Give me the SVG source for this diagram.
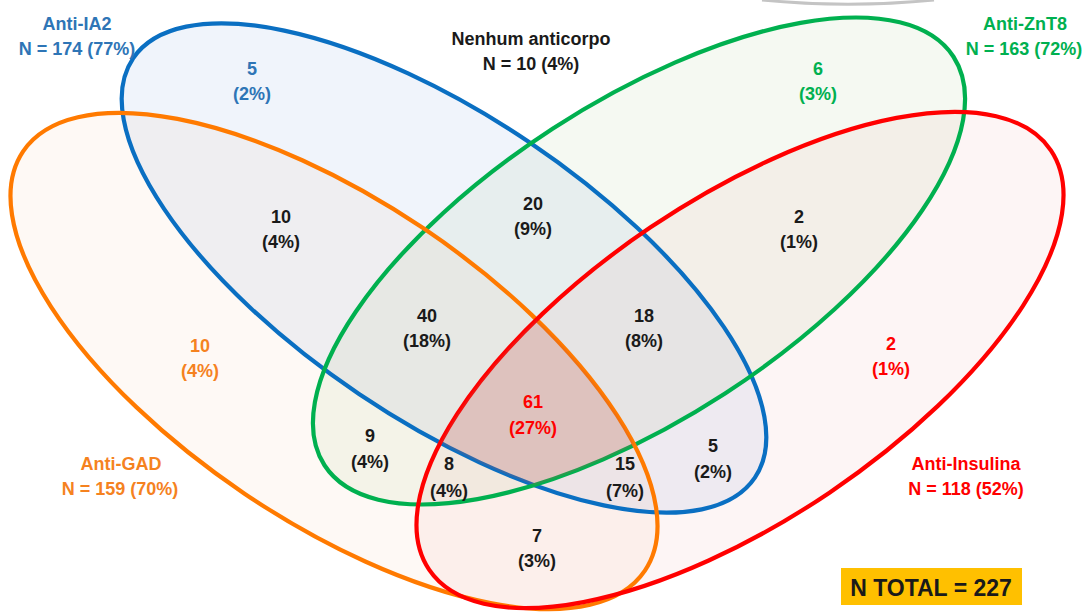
<svg xmlns="http://www.w3.org/2000/svg" xmlns:xlink="http://www.w3.org/1999/xlink" width="1088" height="612" viewBox="0 0 1088 612">
<style>
text{font-family:"Liberation Sans",Arial,sans-serif;font-weight:bold;font-size:18px;text-anchor:middle}
.k{fill:#1a1a1a}
.b{fill:#2e75b6}
.g{fill:#00b050}
.o{fill:#f5821f}
.r{fill:#ff0000}
.ring{stroke-width:4.2}
</style>
<defs>
<ellipse id="eB" cx="444" cy="268" rx="375" ry="152" transform="rotate(34 444 268)"/>
<ellipse id="eG" cx="639" cy="261" rx="375" ry="158" transform="rotate(-33 639 261)"/>
<ellipse id="eO" cx="334" cy="361" rx="375" ry="160" transform="rotate(34 334 361)"/>
<ellipse id="eR" cx="740" cy="360" rx="375" ry="160" transform="rotate(-34 740 360)"/>
<clipPath id="cpB"><ellipse cx="444" cy="268" rx="375" ry="152" transform="rotate(34 444 268)"/></clipPath>
<clipPath id="cpG"><ellipse cx="639" cy="261" rx="375" ry="158" transform="rotate(-33 639 261)"/></clipPath>
<clipPath id="cpO"><ellipse cx="334" cy="361" rx="375" ry="160" transform="rotate(34 334 361)"/></clipPath>
</defs>
<rect width="1088" height="612" fill="#ffffff"/>
<path d="M762 0 Q848 8.5 934 0" fill="none" stroke="#c4c4c4" stroke-width="3"/>
<g id="fills">
<use xlink:href="#eB" fill="#2e5fc0" fill-opacity="0.07"/>
<use xlink:href="#eG" fill="#70b040" fill-opacity="0.07"/>
<use xlink:href="#eO" fill="#f08040" fill-opacity="0.05"/>
<use xlink:href="#eR" fill="#e04040" fill-opacity="0.05"/>
</g>
<g id="anti-ia2">
<use xlink:href="#eB" class="ring" fill="none" stroke="#0a6fc2"/>
<text class="b" x="77" y="30">Anti-IA2</text>
<text class="b" x="77" y="55">N = 174 (77%)</text>
</g>
<g id="anti-znt8">
<use xlink:href="#eG" class="ring" fill="none" stroke="#00b04f"/>
<text class="g" x="1025" y="30">Anti-ZnT8</text>
<text class="g" x="1024" y="55">N = 163 (72%)</text>
</g>
<g id="anti-gad">
<use xlink:href="#eO" class="ring" fill="none" stroke="#ff7a00"/>
<text class="o" x="121" y="470">Anti-GAD</text>
<text class="o" x="120" y="495">N = 159 (70%)</text>
</g>
<g id="anti-insulina">
<use xlink:href="#eR" class="ring" fill="none" stroke="#ff0000"/>
<text class="r" x="966" y="470">Anti-Insulina</text>
<text class="r" x="966" y="495">N = 118 (52%)</text>
</g>
<g id="center-overlay" clip-path="url(#cpB)"><g clip-path="url(#cpG)"><g clip-path="url(#cpO)">
<use xlink:href="#eR" fill="#c0504d" fill-opacity="0.2"/>
</g></g></g>
<g id="nenhum">
<text class="k" x="531" y="45">Nenhum anticorpo</text>
<text class="k" x="531" y="70">N = 10 (4%)</text>
</g>
<g id="regions">
<text class="b" x="252" y="75">5</text><text class="b" x="252" y="100">(2%)</text>
<text class="g" x="818" y="75">6</text><text class="g" x="818" y="100">(3%)</text>
<text class="k" x="281" y="223">10</text><text class="k" x="281" y="248">(4%)</text>
<text class="k" x="533" y="210">20</text><text class="k" x="533" y="235">(9%)</text>
<text class="k" x="799" y="223">2</text><text class="k" x="799" y="248">(1%)</text>
<text class="k" x="427" y="322">40</text><text class="k" x="427" y="347">(18%)</text>
<text class="k" x="644" y="322">18</text><text class="k" x="644" y="347">(8%)</text>
<text class="o" x="200" y="352">10</text><text class="o" x="200" y="377">(4%)</text>
<text class="r" x="891" y="350">2</text><text class="r" x="891" y="375">(1%)</text>
<text class="r" x="533" y="408">61</text><text class="r" x="533" y="434">(27%)</text>
<text class="k" x="370" y="442">9</text><text class="k" x="370" y="468">(4%)</text>
<text class="k" x="449" y="470">8</text><text class="k" x="449" y="497">(4%)</text>
<text class="k" x="625" y="470">15</text><text class="k" x="625" y="497">(7%)</text>
<text class="k" x="713" y="452">5</text><text class="k" x="713" y="478">(2%)</text>
<text class="k" x="537" y="542">7</text><text class="k" x="537" y="567">(3%)</text>
</g>
<g id="total">
<rect x="841" y="568" width="181" height="37" fill="#ffc000"/>
<text class="k" x="931" y="596" style="font-size:23px">N TOTAL = 227</text>
</g>
</svg>
